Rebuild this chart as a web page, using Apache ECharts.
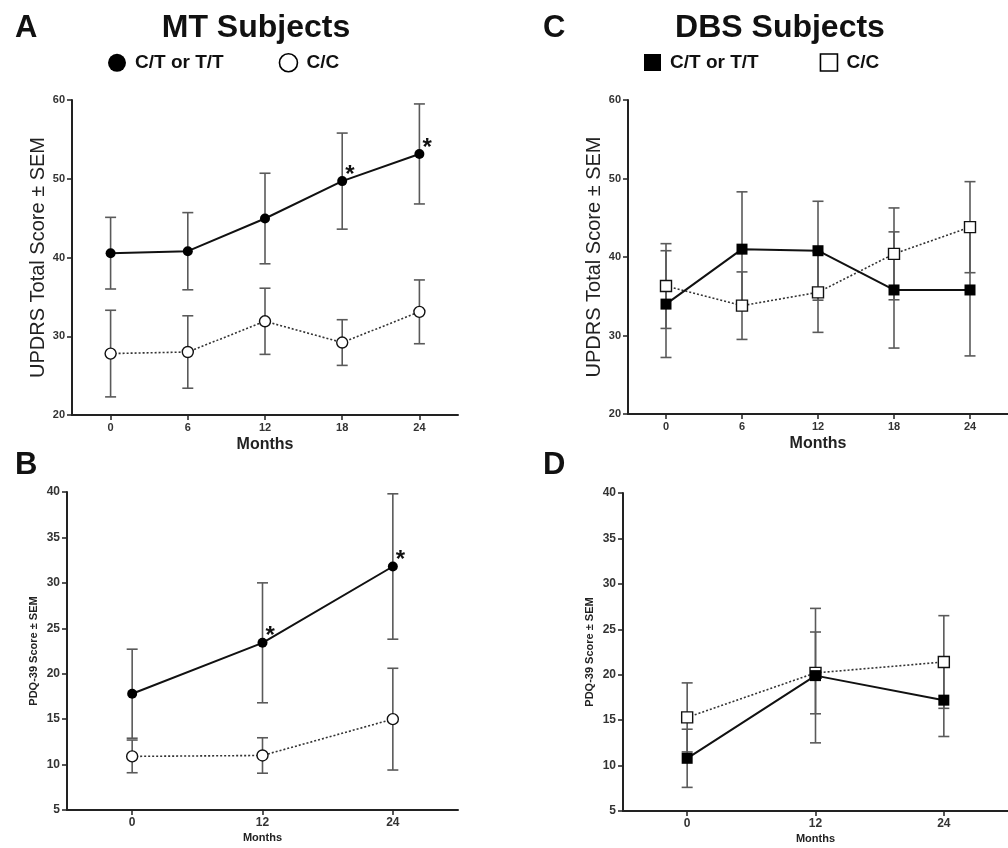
<!DOCTYPE html>
<html><head><meta charset="utf-8">
<script src="https://cdn.jsdelivr.net/npm/echarts@6/dist/echarts.min.js"></script>
<style>html,body{margin:0;padding:0;background:#fff}#c{width:1008px;height:848px}</style>
</head><body><div id="c"></div>
<script>
// ---- data ----
const monthsUPDRS = [0, 6, 12, 18, 24];
const monthsPDQ = [0, 12, 24];
const updrsTicks = [20, 30, 40, 50, 60];
const pdqTicks = [5, 10, 15, 20, 25, 30, 35, 40];

const mtUpdrsCT = [40.55, 40.8, 44.95, 49.7, 53.15];
const mtUpdrsCTsem = [4.55, 4.9, 5.75, 6.1, 6.35];
const mtUpdrsCC = [27.8, 28.0, 31.9, 29.2, 33.1];
const mtUpdrsCCsem = [5.5, 4.6, 4.2, 2.9, 4.05];

const dbsUpdrsCT = [34.0, 41.0, 40.8, 35.8, 35.8];
const dbsUpdrsCTsem = [6.8, 7.3, 6.3, 7.4, 8.4];
const dbsUpdrsCC = [36.3, 33.8, 35.5, 40.4, 43.8];
const dbsUpdrsCCsem = [5.4, 4.3, 5.1, 5.85, 5.8];

const mtPdqCT = [17.8, 23.4, 31.8];
const mtPdqCTsem = [4.9, 6.6, 8.0];
const mtPdqCC = [10.9, 11.0, 15.0];
const mtPdqCCsem = [1.8, 1.95, 5.6];

const dbsPdqCT = [10.8, 19.9, 17.2];
const dbsPdqCTsem = [3.2, 7.4, 4.0];
const dbsPdqCC = [15.3, 20.2, 21.4];
const dbsPdqCCsem = [3.8, 4.5, 5.1];

const starsMtUpdrs = [18, 24];
const starsMtPdq = [12, 24];

const seriesNames = ['C/T or T/T', 'C/C'];

// ---- styling helpers ----
const FF = '"Liberation Sans", Arial, Helvetica, sans-serif';
const AX = '#222';

function xAx(gi, min, max, ticks, nameSize, labelSize, nameGap) {
  return {
    type: 'value', gridIndex: gi, min: min, max: max,
    name: 'Months', nameLocation: 'middle', nameGap: nameGap,
    nameTextStyle: { fontSize: nameSize, fontWeight: 'bold', color: '#222', fontFamily: FF },
    axisLine: { show: true, onZero: false, lineStyle: { color: AX, width: 2 } },
    axisTick: { show: true, customValues: ticks, length: 5, lineStyle: { color: AX, width: 1.5 } },
    axisLabel: { show: true, customValues: ticks, fontSize: labelSize, fontWeight: 'bold', color: '#333', margin: 7, fontFamily: FF },
    splitLine: { show: false }
  };
}
function yAx(gi, ticks, interval, name, nameSize, nameWeight, nameGap, labelSize) {
  return {
    type: 'value', gridIndex: gi, min: ticks[0], max: ticks[ticks.length - 1], interval: interval,
    name: name, nameLocation: 'middle', nameGap: nameGap,
    nameTextStyle: { fontSize: nameSize, fontWeight: nameWeight, color: '#222', fontFamily: FF },
    axisLine: { show: true, onZero: false, lineStyle: { color: AX, width: 2 } },
    axisTick: { show: true, length: 5, lineStyle: { color: AX, width: 1.5 } },
    axisLabel: { show: true, fontSize: labelSize, fontWeight: 'bold', color: '#333', margin: 7, fontFamily: FF },
    splitLine: { show: false }
  };
}

function errRender(capHalf) {
  return function (params, api) {
    const x = api.value(0), lo = api.value(1), hi = api.value(2);
    const p1 = api.coord([x, hi]), p2 = api.coord([x, lo]);
    const st = { stroke: '#5a5a5a', lineWidth: 1.6 };
    return { type: 'group', children: [
      { type: 'line', shape: { x1: p1[0], y1: p1[1], x2: p2[0], y2: p2[1] }, style: st },
      { type: 'line', shape: { x1: p1[0] - capHalf, y1: p1[1], x2: p1[0] + capHalf, y2: p1[1] }, style: st },
      { type: 'line', shape: { x1: p2[0] - capHalf, y1: p2[1], x2: p2[0] + capHalf, y2: p2[1] }, style: st }
    ]};
  };
}
function errSeries(gi, months, mean, sem, name) {
  return {
    type: 'custom', name: name, xAxisIndex: gi, yAxisIndex: gi, z: 1, silent: true,
    renderItem: errRender(5.5),
    encode: { x: 0, y: [1, 2] },
    data: months.map((m, i) => [m, +(mean[i] - sem[i]).toFixed(2), +(mean[i] + sem[i]).toFixed(2)])
  };
}
function lineSeries(gi, months, mean, name, filled, symbol, size, stars) {
  return {
    type: 'line', name: name, xAxisIndex: gi, yAxisIndex: gi, z: filled ? 4 : 3,
    symbol: symbol, symbolSize: size, showSymbol: true,
    lineStyle: filled ? { color: '#111', width: 2 } : { color: '#333', width: 1.6, type: [2, 2] },
    itemStyle: filled ? { color: '#000', borderWidth: 0 } : { color: '#fff', borderColor: '#111', borderWidth: 1.4 },
    data: months.map((m, i) => {
      const d = { value: [m, mean[i]] };
      if (stars && stars.indexOf(m) >= 0) {
        d.label = { show: true, formatter: '*', position: 'right', distance: 0, offset: [-2, -6],
          fontSize: 24, fontWeight: 'bold', color: '#111', fontFamily: FF };
      }
      return d;
    })
  };
}

const legendText = { fontSize: 19, fontWeight: 'bold', color: '#111', fontFamily: FF, padding: [0, 0, 0, 4] };
const titleText = { fontSize: 31, fontWeight: 'bold', color: '#111', fontFamily: FF };
const headText = { fontSize: 32, fontWeight: 'bold', color: '#111', fontFamily: FF };

const option = {
  animation: false,
  backgroundColor: '#fff',
  title: [
    { text: 'A', left: 15, top: 13, padding: 0, textStyle: titleText },
    { text: 'MT Subjects', left: 256, top: 12, padding: 0, textAlign: 'center', textStyle: headText },
    { text: 'C', left: 543, top: 13, padding: 0, textStyle: titleText },
    { text: 'DBS Subjects', left: 780, top: 12, padding: 0, textAlign: 'center', textStyle: headText },
    { text: 'B', left: 15, top: 450, padding: 0, textStyle: titleText },
    { text: 'D', left: 543, top: 450, padding: 0, textStyle: titleText }
  ],
  legend: [
    { left: 108, top: 53, padding: 0, itemWidth: 18, itemHeight: 18, itemGap: 55, selectedMode: false,
      textStyle: legendText,
      data: [
        { name: seriesNames[0], icon: 'circle', itemStyle: { color: '#000', borderWidth: 0 } },
        { name: seriesNames[1], icon: 'circle', itemStyle: { color: '#fff', borderColor: '#000', borderWidth: 1.6 } }
      ] },
    { left: 644, top: 53, padding: 0, itemWidth: 17, itemHeight: 17, itemGap: 61, selectedMode: false,
      textStyle: legendText,
      data: [
        { name: seriesNames[0], icon: 'rect', itemStyle: { color: '#000', borderWidth: 0 } },
        { name: seriesNames[1], icon: 'rect', itemStyle: { color: '#fff', borderColor: '#000', borderWidth: 1.6 } }
      ] }
  ],
  grid: [
    { left: 72, top: 100, width: 386, height: 315 },
    { left: 628, top: 100, width: 386, height: 314 },
    { left: 67, top: 492, width: 391, height: 318 },
    { left: 623, top: 493, width: 391, height: 318 }
  ],
  xAxis: [
    xAx(0, -3, 27, monthsUPDRS, 16, 11, 22),
    xAx(1, -3, 27, monthsUPDRS, 16, 11, 22),
    xAx(2, -6, 30, monthsPDQ, 11, 12, 22),
    xAx(3, -6, 30, monthsPDQ, 11, 12, 22)
  ],
  yAxis: [
    yAx(0, updrsTicks, 10, 'UPDRS Total Score ± SEM', 20, 'normal', 24, 11),
    yAx(1, updrsTicks, 10, 'UPDRS Total Score ± SEM', 20, 'normal', 24, 11),
    yAx(2, pdqTicks, 5, 'PDQ-39 Score ± SEM', 11, 'bold', 28, 12),
    yAx(3, pdqTicks, 5, 'PDQ-39 Score ± SEM', 11, 'bold', 28, 12)
  ],
  series: [
    errSeries(0, monthsUPDRS, mtUpdrsCT, mtUpdrsCTsem, seriesNames[0]),
    errSeries(0, monthsUPDRS, mtUpdrsCC, mtUpdrsCCsem, seriesNames[1]),
    lineSeries(0, monthsUPDRS, mtUpdrsCC, seriesNames[1], false, 'circle', 11),
    lineSeries(0, monthsUPDRS, mtUpdrsCT, seriesNames[0], true, 'circle', 10, starsMtUpdrs),

    errSeries(1, monthsUPDRS, dbsUpdrsCT, dbsUpdrsCTsem, seriesNames[0]),
    errSeries(1, monthsUPDRS, dbsUpdrsCC, dbsUpdrsCCsem, seriesNames[1]),
    lineSeries(1, monthsUPDRS, dbsUpdrsCC, seriesNames[1], false, 'rect', 11),
    lineSeries(1, monthsUPDRS, dbsUpdrsCT, seriesNames[0], true, 'rect', 11),

    errSeries(2, monthsPDQ, mtPdqCT, mtPdqCTsem, seriesNames[0]),
    errSeries(2, monthsPDQ, mtPdqCC, mtPdqCCsem, seriesNames[1]),
    lineSeries(2, monthsPDQ, mtPdqCC, seriesNames[1], false, 'circle', 11),
    lineSeries(2, monthsPDQ, mtPdqCT, seriesNames[0], true, 'circle', 10, starsMtPdq),

    errSeries(3, monthsPDQ, dbsPdqCT, dbsPdqCTsem, seriesNames[0]),
    errSeries(3, monthsPDQ, dbsPdqCC, dbsPdqCCsem, seriesNames[1]),
    lineSeries(3, monthsPDQ, dbsPdqCC, seriesNames[1], false, 'rect', 11),
    lineSeries(3, monthsPDQ, dbsPdqCT, seriesNames[0], true, 'rect', 11)
  ]
};

const chart = echarts.init(document.getElementById('c'), null, { renderer: 'canvas' });
chart.setOption(option);
</script>
</body></html>
